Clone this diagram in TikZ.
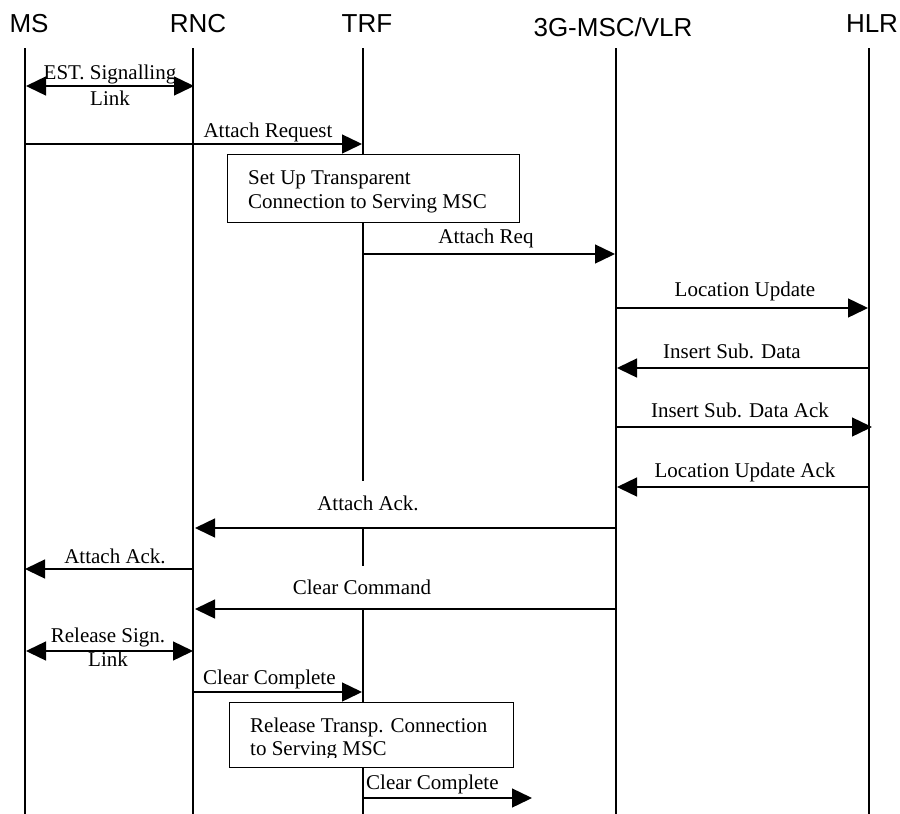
\documentclass[tikz,border=0pt]{standalone}
\usepackage{fontspec}
\setmainfont{Liberation Serif}
\newfontfamily\hdrfont{Liberation Sans}
\usetikzlibrary{arrows.meta}
\tikzset{
 hdr/.style={font=\hdrfont\fontsize{26}{30}\selectfont, inner sep=0pt, anchor=base},
 lbl/.style={font=\fontsize{21}{24}\selectfont, inner sep=0pt, anchor=base},
 lblw/.style={font=\fontsize{21}{24}\selectfont, inner sep=0pt, anchor=base west},
 life/.style={line width=1.6pt},
 msg/.style={line width=1.4pt, -{Triangle[length=20pt,width=19pt]}},
 dmsg/.style={line width=1.4pt, {Triangle[length=20pt,width=19pt]}-{Triangle[length=20pt,width=19pt]}},
 procbox/.style={draw, line width=1.4pt, fill=white},
}
\begin{document}
\begin{tikzpicture}[x=1pt,y=-1pt]
\useasboundingbox (0,0) rectangle (900,814);
% headers
\node[hdr] (hMS) at (29,32) {MS};
\node[hdr] (hRNC) at (198,32) {RNC};
\node[hdr] (hTRF) at (367,32) {TRF};
\node[hdr] (hMSC) at (613,36) {3G-MSC/VLR};
\node[hdr] (hHLR) at (872,32) {HLR};
% lifelines
\coordinate (msT) at (25,48);  \coordinate (msB) at (25,814);
\coordinate (rncT) at (193,48); \coordinate (rncB) at (193,814);
\coordinate (trfT) at (363,48); \coordinate (trfB) at (363,814);
\coordinate (mscT) at (616,48); \coordinate (mscB) at (616,814);
\coordinate (hlrT) at (869,48); \coordinate (hlrB) at (869,814);
\draw[life] (msT) -- (msB);
\draw[life] (rncT) -- (rncB);
\draw[life] (trfT) -- (trfB);
\draw[life] (mscT) -- (mscB);
\draw[life] (hlrT) -- (hlrB);
% label backgrounds over TRF lifeline
\fill[white] (317,481) rectangle (419,527);
\fill[white] (292,566) rectangle (432,608);
% process boxes
\node[procbox, minimum width=292pt, minimum height=68pt, inner sep=0pt, anchor=north west] (box1) at (227,154) {};
\node[lblw] (b1a) at (248,184) {Set Up Transparent};
\node[lblw] (b1b) at (248,208) {Connection to Serving MSC};
\node[procbox, minimum width=284pt, minimum height=65pt, inner sep=0pt, anchor=north west] (box2) at (229,702) {};
\begin{scope}
\clip (230,703) rectangle (512,757);
\node[lblw] (b2a) at (250,732) {Release Transp. Connection};
\node[lblw] (b2b) at (250,755) {to Serving MSC};
\end{scope}
% message endpoints
\coordinate (e1a) at (26,86);   \coordinate (e1b) at (194,86);
\coordinate (m1a) at (25,144);  \coordinate (m1b) at (362,144);
\coordinate (m2a) at (363,254); \coordinate (m2b) at (615,254);
\coordinate (m3a) at (616,308); \coordinate (m3b) at (868,308);
\coordinate (m4a) at (869,368); \coordinate (m4b) at (617,368);
\coordinate (m5a) at (616,427); \coordinate (m5b) at (872,427);
\coordinate (m6a) at (869,487); \coordinate (m6b) at (617,487);
\coordinate (m7a) at (616,528); \coordinate (m7b) at (195,528);
\coordinate (m8a) at (193,569); \coordinate (m8b) at (25,569);
\coordinate (m9a) at (616,609); \coordinate (m9b) at (195,609);
\coordinate (e2a) at (26,651);  \coordinate (e2b) at (193,651);
\coordinate (m10a) at (193,692); \coordinate (m10b) at (362,692);
\coordinate (m11a) at (363,798); \coordinate (m11b) at (532,798);
% messages
\draw[dmsg] (e1a) -- (e1b);
\draw[msg] (m1a) -- (m1b);
\draw[msg] (m2a) -- (m2b);
\draw[msg] (m3a) -- (m3b);
\draw[msg] (m4a) -- (m4b);
\draw[msg] (m5a) -- (m5b);
\draw[msg] (m6a) -- (m6b);
\draw[msg] (m7a) -- (m7b);
\draw[msg] (m8a) -- (m8b);
\draw[msg] (m9a) -- (m9b);
\draw[dmsg] (e2a) -- (e2b);
\draw[msg] (m10a) -- (m10b);
\draw[msg] (m11a) -- (m11b);
% labels
\node[lbl] (l1a) at (110,79) {EST. Signalling};
\node[lbl] (l1b) at (110,105) {Link};
\node[lbl] (l2) at (268,137) {Attach Request};
\node[lbl] (l3) at (486,243) {Attach Req};
\node[lbl] (l4) at (745,296) {Location Update};
\node[lbl] (l5) at (732,358) {Insert Sub. Data};
\node[lbl] (l6) at (740,417) {Insert Sub. Data Ack};
\node[lbl] (l7) at (745,477) {Location Update Ack};
\node[lbl] (l8) at (368,510) {Attach Ack.};
\node[lbl] (l9) at (115,563) {Attach Ack.};
\node[lbl] (l10) at (362,594) {Clear Command};
\node[lbl] (l11a) at (108,642) {Release Sign.};
\node[lbl] (l11b) at (108,666) {Link};
\node[lblw] (l12) at (203,684) {Clear Complete};
\node[lblw] (l13) at (366,789) {Clear Complete};
\end{tikzpicture}
\end{document}
